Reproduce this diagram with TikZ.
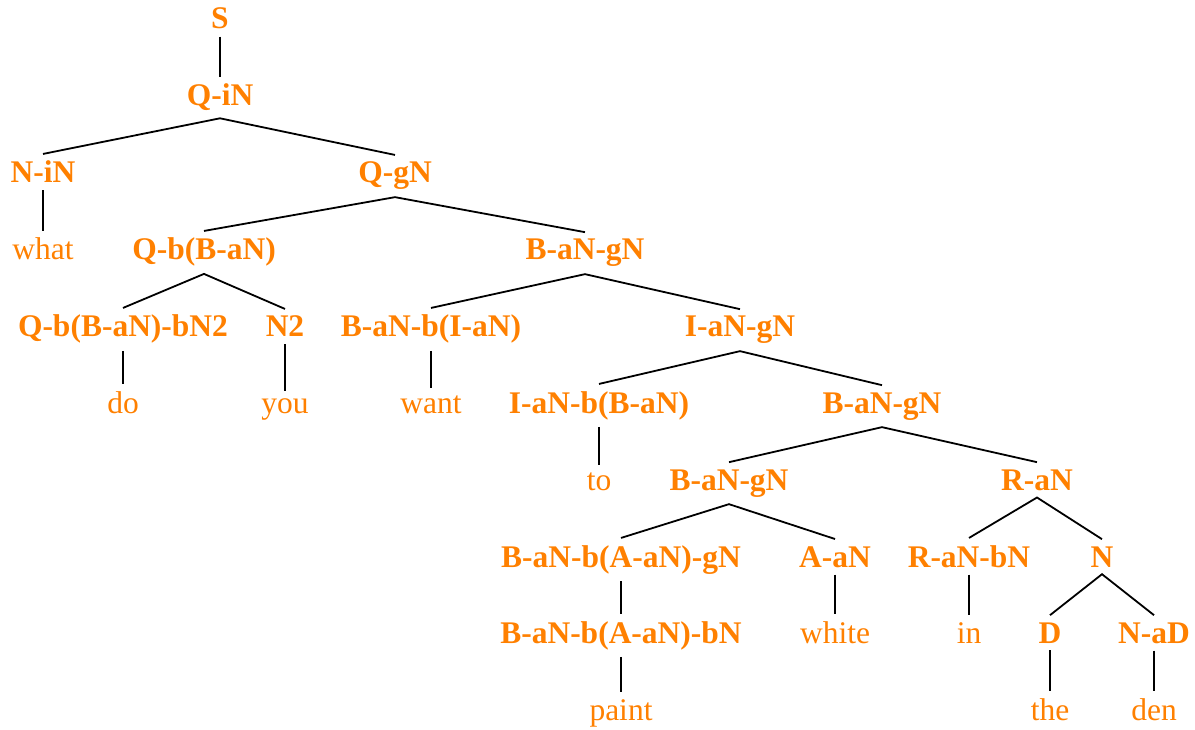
\documentclass[tikz,border=0pt]{standalone}
\usepackage{fontspec}
\setmainfont{Liberation Serif}
\definecolor{treeorange}{RGB}{255,128,0}
\begin{document}
\begin{tikzpicture}[x=1pt,y=-1pt,
  cat/.style={font=\fontsize{31.5}{36}\selectfont\bfseries, text=treeorange, anchor=base, inner xsep=2pt, inner ysep=7pt},
  word/.style={font=\fontsize{31.5}{36}\selectfont, text=treeorange, anchor=base, inner xsep=2pt, inner ysep=7pt},
  edge/.style={draw=black, line width=1.8pt}]
\useasboundingbox (0,0) rectangle (1195,730);
% level 0-1
\node[cat] (S) at (220,29) {S};
\node[cat] (QiN) at (220,106) {Q-iN};
% level 2
\node[cat] (NiN) at (43,183) {N-iN};
\node[cat] (QgN) at (395,183) {Q-gN};
% level 3
\node[word] (what) at (43,260) {what};
\node[cat] (Qb) at (204,260) {Q-b(B-aN)};
\node[cat] (BgA) at (585,260) {B-aN-gN};
% level 4
\node[cat] (Qbb) at (123,337) {Q-b(B-aN)-bN2};
\node[cat] (N2) at (285,337) {N2};
\node[cat] (BbI) at (431,337) {B-aN-b(I-aN)};
\node[cat] (IgN) at (740,337) {I-aN-gN};
% level 5
\node[word] (do) at (123,413) {do};
\node[word] (you) at (285,413) {you};
\node[word] (want) at (431,413) {want};
\node[cat] (IbB) at (599,413) {I-aN-b(B-aN)};
\node[cat] (BgB) at (882,413) {B-aN-gN};
% level 6
\node[word] (to) at (599,490) {to};
\node[cat] (BgC) at (729,490) {B-aN-gN};
\node[cat] (RaN) at (1037,490) {R-aN};
% level 7
\node[cat] (BbAg) at (621,567) {B-aN-b(A-aN)-gN};
\node[cat] (AaN) at (835,567) {A-aN};
\node[cat] (RbN) at (969,567) {R-aN-bN};
\node[cat] (N) at (1102,567) {N};
% level 8
\node[cat] (BbAb) at (621,643) {B-aN-b(A-aN)-bN};
\node[word] (white) at (835,643) {white};
\node[word] (in) at (969,643) {in};
\node[cat] (D) at (1050,643) {D};
\node[cat] (NaD) at (1154,643) {N-aD};
% level 9
\node[word] (paint) at (621,720) {paint};
\node[word] (the) at (1050,720) {the};
\node[word] (den) at (1154,720) {den};
% edges
\draw[edge] (S.south) -- (QiN.north);
\draw[edge] (NiN.north) -- (QiN.south) -- (QgN.north);
\draw[edge] (NiN.south) -- (what.north);
\draw[edge] (Qb.north) -- (QgN.south) -- (BgA.north);
\draw[edge] (Qbb.north) -- (Qb.south) -- (N2.north);
\draw[edge] (BbI.north) -- (BgA.south) -- (IgN.north);
\draw[edge] (Qbb.south) -- (do.north);
\draw[edge] (N2.south) -- (you.north);
\draw[edge] (BbI.south) -- (want.north);
\draw[edge] (IbB.north) -- (IgN.south) -- (BgB.north);
\draw[edge] (IbB.south) -- (to.north);
\draw[edge] (BgC.north) -- (BgB.south) -- (RaN.north);
\draw[edge] (BbAg.north) -- (BgC.south) -- (AaN.north);
\draw[edge] (RbN.north) -- (RaN.south) -- (N.north);
\draw[edge] (BbAg.south) -- (BbAb.north);
\draw[edge] (BbAb.south) -- (paint.north);
\draw[edge] (AaN.south) -- (white.north);
\draw[edge] (RbN.south) -- (in.north);
\draw[edge] (D.north) -- (N.south) -- (NaD.north);
\draw[edge] (D.south) -- (the.north);
\draw[edge] (NaD.south) -- (den.north);
\end{tikzpicture}
\end{document}
